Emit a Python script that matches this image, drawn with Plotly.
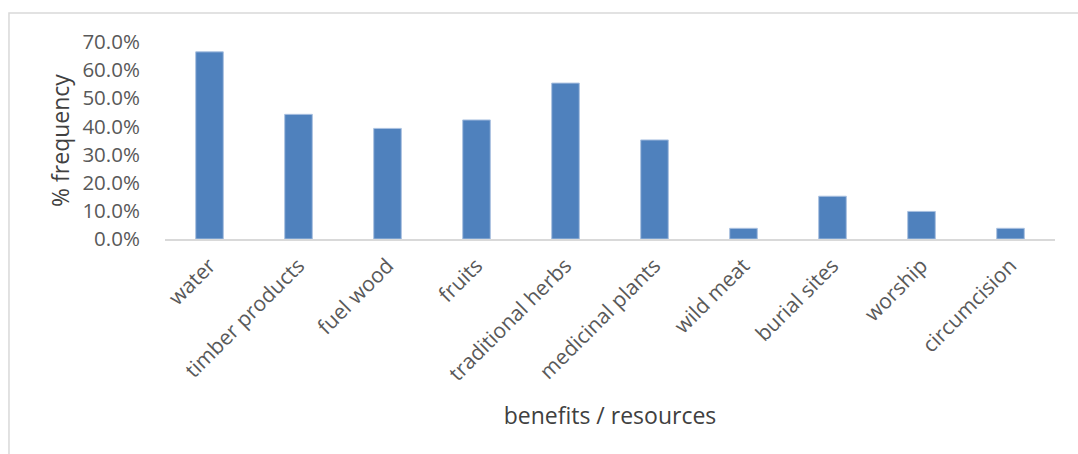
import plotly.graph_objects as go

# Share of respondents naming each benefit / resource obtained from the forest
categories = ["water", "timber products", "fuel wood", "fruits", "traditional herbs",
              "medicinal plants", "wild meat", "burial sites", "worship", "circumcision"]
frequency_pct = [66.5, 44.3, 39.3, 42.3, 55.4, 35.2, 3.8, 15.2, 9.8, 3.8]
y_ticks = [0, 10, 20, 30, 40, 50, 60, 70]
y_tick_labels = [f"{v:.1f}%" for v in y_ticks]

TEXT = "#595959"
FONT = "Open Sans"

fig = go.Figure(
    go.Bar(
        x=categories,
        y=frequency_pct,
        marker=dict(color="#4F81BD", line=dict(color="#A9C0E0", width=1)),
        width=0.31,
        hoverinfo="x+y",
    )
)

fig.update_layout(
    width=1078,
    height=454,
    margin=dict(l=165, r=23, t=42, b=215),
    paper_bgcolor="white",
    plot_bgcolor="white",
    showlegend=False,
    font=dict(family=FONT, color=TEXT),
    xaxis=dict(
        showline=True,
        linecolor="#D9D9D9",
        linewidth=2,
        showgrid=False,
        ticks="outside",
        ticklen=4,
        tickcolor="rgba(0,0,0,0)",
        tickangle=-45,
        tickfont=dict(size=21, color=TEXT, family=FONT),
        title=dict(text="benefits / resources", font=dict(size=23, color="#404040", family=FONT), standoff=22),
        automargin=False,
    ),
    yaxis=dict(
        range=[0, 70],
        tickvals=y_ticks,
        ticktext=y_tick_labels,
        showline=False,
        showgrid=False,
        zeroline=False,
        ticks="outside",
        ticklen=20,
        tickcolor="rgba(0,0,0,0)",
        tickfont=dict(size=20.5, color=TEXT, family=FONT),
        title=dict(text="% frequency", font=dict(size=23, color="#404040", family=FONT), standoff=6),
        automargin=False,
    ),
    shapes=[
        dict(
            type="rect", xref="paper", yref="paper",
            x0=-0.1753, x1=1.2, y0=-2.0, y1=1.1472,
            line=dict(color="#D9D9D9", width=1.5),
            fillcolor="rgba(0,0,0,0)",
            layer="below",
        )
    ],
)

fig.write_html("out.html")
